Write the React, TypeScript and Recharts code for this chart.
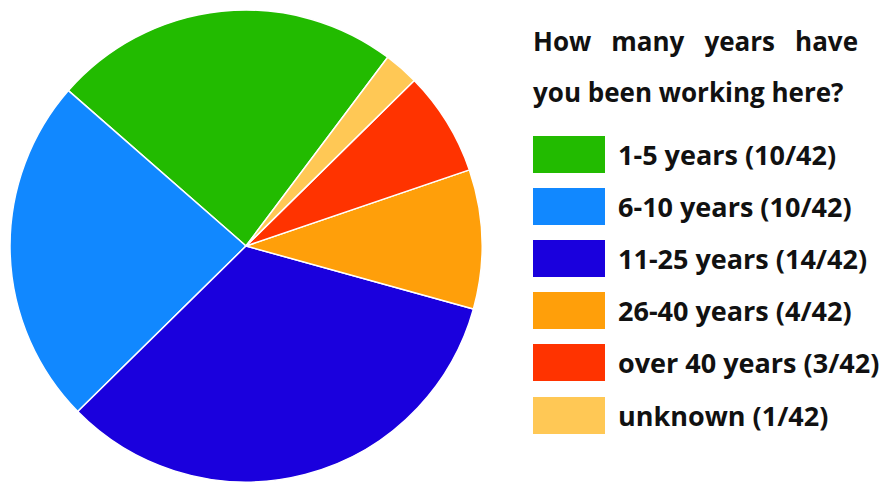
import { PieChart, Pie, Cell } from 'recharts'

const labels = ['1-5 years', '6-10 years', '11-25 years', '26-40 years', 'over 40 years', 'unknown']
const counts = [10, 10, 14, 4, 3, 1]
const total = 42
const colors = ['#22bb00', '#1188ff', '#1a00dd', '#ff9f0a', '#ff3300', '#ffc855']
const titleLines = ['How many years have', 'you been working here?']

const data = labels.map((name, i) => ({ name, value: counts[i] }))

const font = '"Open Sans", Lato, sans-serif'

function LegendBox() {
  return (
    <div
      style={{
        position: 'absolute',
        left: 533,
        top: 16,
        width: 325,
        fontFamily: font,
        fontWeight: 700,
        color: '#111',
      }}
    >
      <div style={{ fontSize: 26, lineHeight: '51px', textAlign: 'justify', textAlignLast: 'justify' }}>
        {titleLines[0]}
      </div>
      <div style={{ fontSize: 26, lineHeight: '51px', marginBottom: 10, whiteSpace: 'nowrap' }}>
        {titleLines[1]}
      </div>
      {data.map((d, i) => (
        <div key={d.name} style={{ display: 'flex', alignItems: 'center', height: 52.2 }}>
          <div style={{ width: 72, height: 37, background: colors[i], marginRight: 13, flexShrink: 0 }} />
          <span style={{ fontSize: 27, whiteSpace: 'nowrap' }}>
            {d.name} ({d.value}/{total})
          </span>
        </div>
      ))}
    </div>
  )
}

export default function App() {
  return (
    <div style={{ position: 'absolute', left: 0, top: 0, width: 881, height: 482, background: '#fff' }}>
      <PieChart width={881} height={482} margin={{ top: 0, right: 0, bottom: 0, left: 0 }}>
        <Pie
          data={data}
          dataKey="value"
          nameKey="name"
          cx={246}
          cy={246}
          outerRadius={236}
          startAngle={53.1}
          endAngle={413.1}
          stroke="#ffffff"
          strokeWidth={1.5}
          isAnimationActive={false}
        >
          {data.map((d, i) => (
            <Cell key={d.name} fill={colors[i]} />
          ))}
        </Pie>
      </PieChart>
      <LegendBox />
    </div>
  )
}
